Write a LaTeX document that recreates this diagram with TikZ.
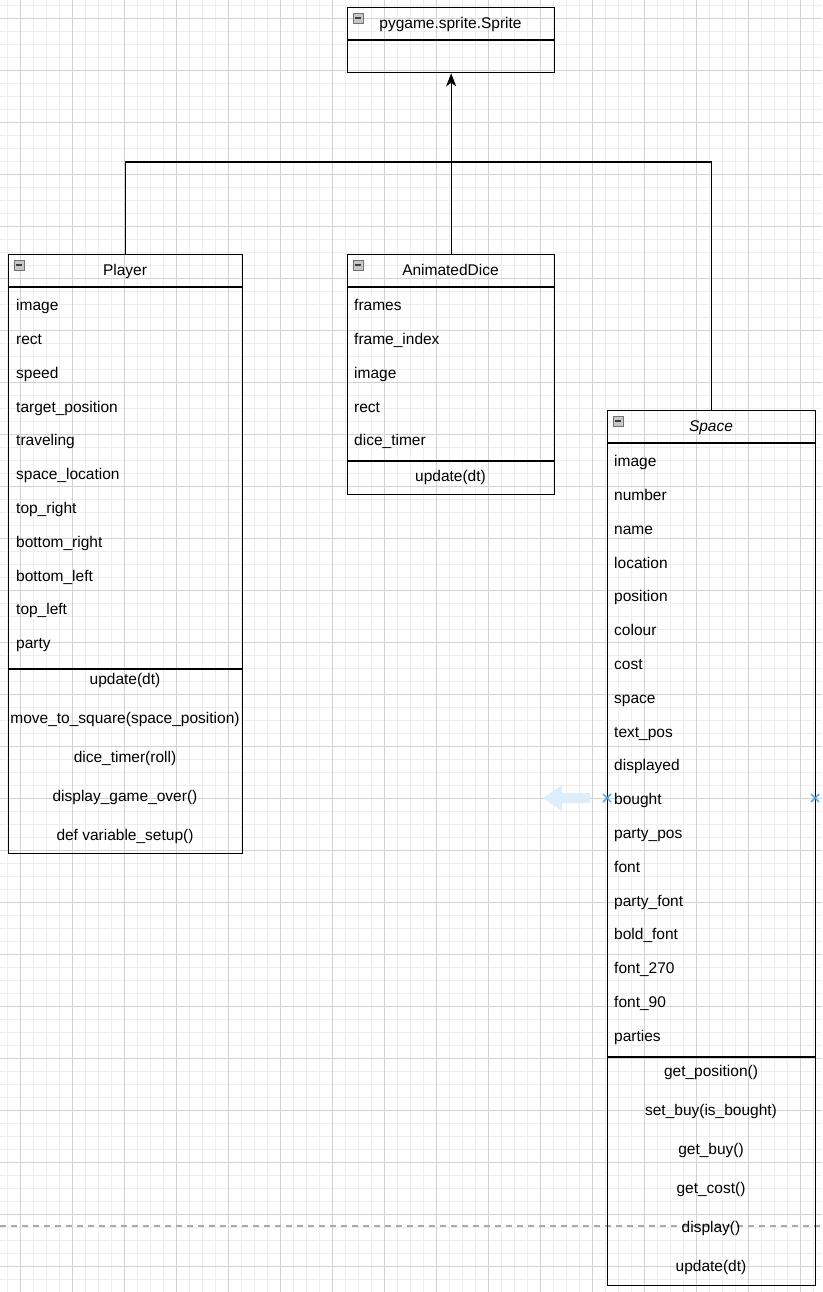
\documentclass[tikz,border=0pt]{standalone}
\usepackage{fontspec}
\setmainfont{Liberation Sans}
\usetikzlibrary{arrows.meta,calc}
\definecolor{gmajor}{HTML}{D2D2D2}
\definecolor{gminor}{HTML}{EEEEEE}
\definecolor{hintblue}{HTML}{DCEDFB}
\definecolor{xblue}{HTML}{4A9EE5}
\definecolor{pagebrk}{HTML}{AAAAAA}
\tikzset{
  classbox/.style={draw=black, line width=1.3pt, inner sep=0pt, anchor=north west, rectangle},
  sepline/.style={draw=black, line width=1.3pt},
  attr/.style={anchor=west, inner sep=0pt, text height=11pt, text depth=3.5pt},
  meth/.style={anchor=center, inner sep=0pt, text height=11pt, text depth=3.5pt},
  ttl/.style={anchor=center, inner sep=0pt, text height=11pt, text depth=3.5pt},
  conn/.style={draw=black, line width=1.3pt},
  xmark/.style={draw=xblue, line width=1.4pt},
}
\newcommand{\minusicon}[2]{%
  \draw[black!55, fill=black!22, line width=0.8pt] (#1,#2) rectangle ({#1+10},{#2+10});
  \draw[black!75, line width=1.6pt] ({#1+2},{#2+5}) -- ({#1+8},{#2+5});
}
\begin{document}
\begin{tikzpicture}[x=1pt,y=-1pt,font=\fontsize{15.5}{18}\selectfont]
\useasboundingbox (0,0) rectangle (822,1292);
\fill[white] (0,0) rectangle (822,1292);
% grid
\foreach \i in {0,...,62} { \draw[gminor, line width=0.8pt] ({7+13*\i},0) -- ({7+13*\i},1292); }
\foreach \i in {0,...,98} { \draw[gminor, line width=0.8pt] (0,{5+13*\i}) -- (822,{5+13*\i}); }
\foreach \i in {0,...,15} { \draw[gmajor, line width=0.8pt] ({20+52*\i},0) -- ({20+52*\i},1292); }
\foreach \i in {0,...,24} { \draw[gmajor, line width=0.8pt] (0,{18+52*\i}) -- (822,{18+52*\i}); }
% page break line
\draw[pagebrk, line width=1.2pt, dash pattern=on 6pt off 5pt] (0,1226) -- (822,1226);

% pygame.sprite.Sprite
\node[classbox, minimum width=207pt, minimum height=65pt] (sprite) at (347,7) {};
\draw[sepline] (347,40) -- (554,40);
\minusicon{353}{13}
\node[ttl] (spritet) at (450.5,25) {pygame.sprite.Sprite};

% Player
\node[classbox, minimum width=234pt, minimum height=599pt] (player) at (8,254) {};
\draw[sepline] (8,287) -- (242,287);
\draw[sepline] (8,669) -- (242,669);
\minusicon{14}{260}
\node[ttl] (playert) at (125,272) {Player};
\foreach \t [count=\i from 0] in {image,rect,speed,target\_position,traveling,space\_location,top\_right,bottom\_right,bottom\_left,top\_left,party}
  \node[attr] (pa\i) at (16,{307+33.8*\i}) {\t};
\foreach \t [count=\i from 0] in {update(dt),move\_to\_square(space\_position),dice\_timer(roll),display\_game\_over(),def variable\_setup()}
  \node[meth] (pm\i) at (125,{681+39*\i}) {\t};

% AnimatedDice
\node[classbox, minimum width=207pt, minimum height=240pt] (dice) at (347,254) {};
\draw[sepline] (347,287) -- (554,287);
\draw[sepline] (347,461) -- (554,461);
\minusicon{353}{260}
\node[ttl] (dicet) at (450.5,272) {AnimatedDice};
\foreach \t [count=\i from 0] in {frames,frame\_index,image,rect,dice\_timer}
  \node[attr] (da\i) at (354,{307+33.8*\i}) {\t};
\node[meth] (dm0) at (450.5,478) {update(dt)};

% Space
\node[classbox, minimum width=208pt, minimum height=875pt] (space) at (607,410) {};
\draw[sepline] (607,443) -- (815,443);
\draw[sepline] (607,1057) -- (815,1057);
\minusicon{613}{416}
\node[ttl] (spacet) at (711,428) {\itshape Space};
\foreach \t [count=\i from 0] in {image,number,name,location,position,colour,cost,space,text\_pos,displayed,bought,party\_pos,font,party\_font,bold\_font,font\_270,font\_90,parties}
  \node[attr] (sa\i) at (614,{463+33.8*\i}) {\t};
\foreach \t [count=\i from 0] in {get\_position(),set\_buy(is\_bought),get\_buy(),get\_cost(),display(),update(dt)}
  \node[meth] (sm\i) at (711,{1073+39*\i}) {\t};

% connectors
\coordinate (junc) at (450.5,162);
\draw[conn] (player.north) |- (junc);
\draw[conn] (space.north) |- (junc);
\draw[conn, -{Stealth[length=13pt,width=10pt,inset=3.5pt]}] (dice.north) -- (sprite.south);

% hover hints
\fill[hintblue] (590,793) -- (562,793) -- (562,785) -- (543,798) -- (562,811) -- (562,803) -- (590,803) -- cycle;
\coordinate (xl) at (607,798);
\coordinate (xr) at (815,798);
\draw[xmark] ($(xl)+(-4,-4)$) -- ($(xl)+(4,4)$) ($(xl)+(-4,4)$) -- ($(xl)+(4,-4)$);
\draw[xmark] ($(xr)+(-4,-4)$) -- ($(xr)+(4,4)$) ($(xr)+(-4,4)$) -- ($(xr)+(4,-4)$);
\end{tikzpicture}
\end{document}
